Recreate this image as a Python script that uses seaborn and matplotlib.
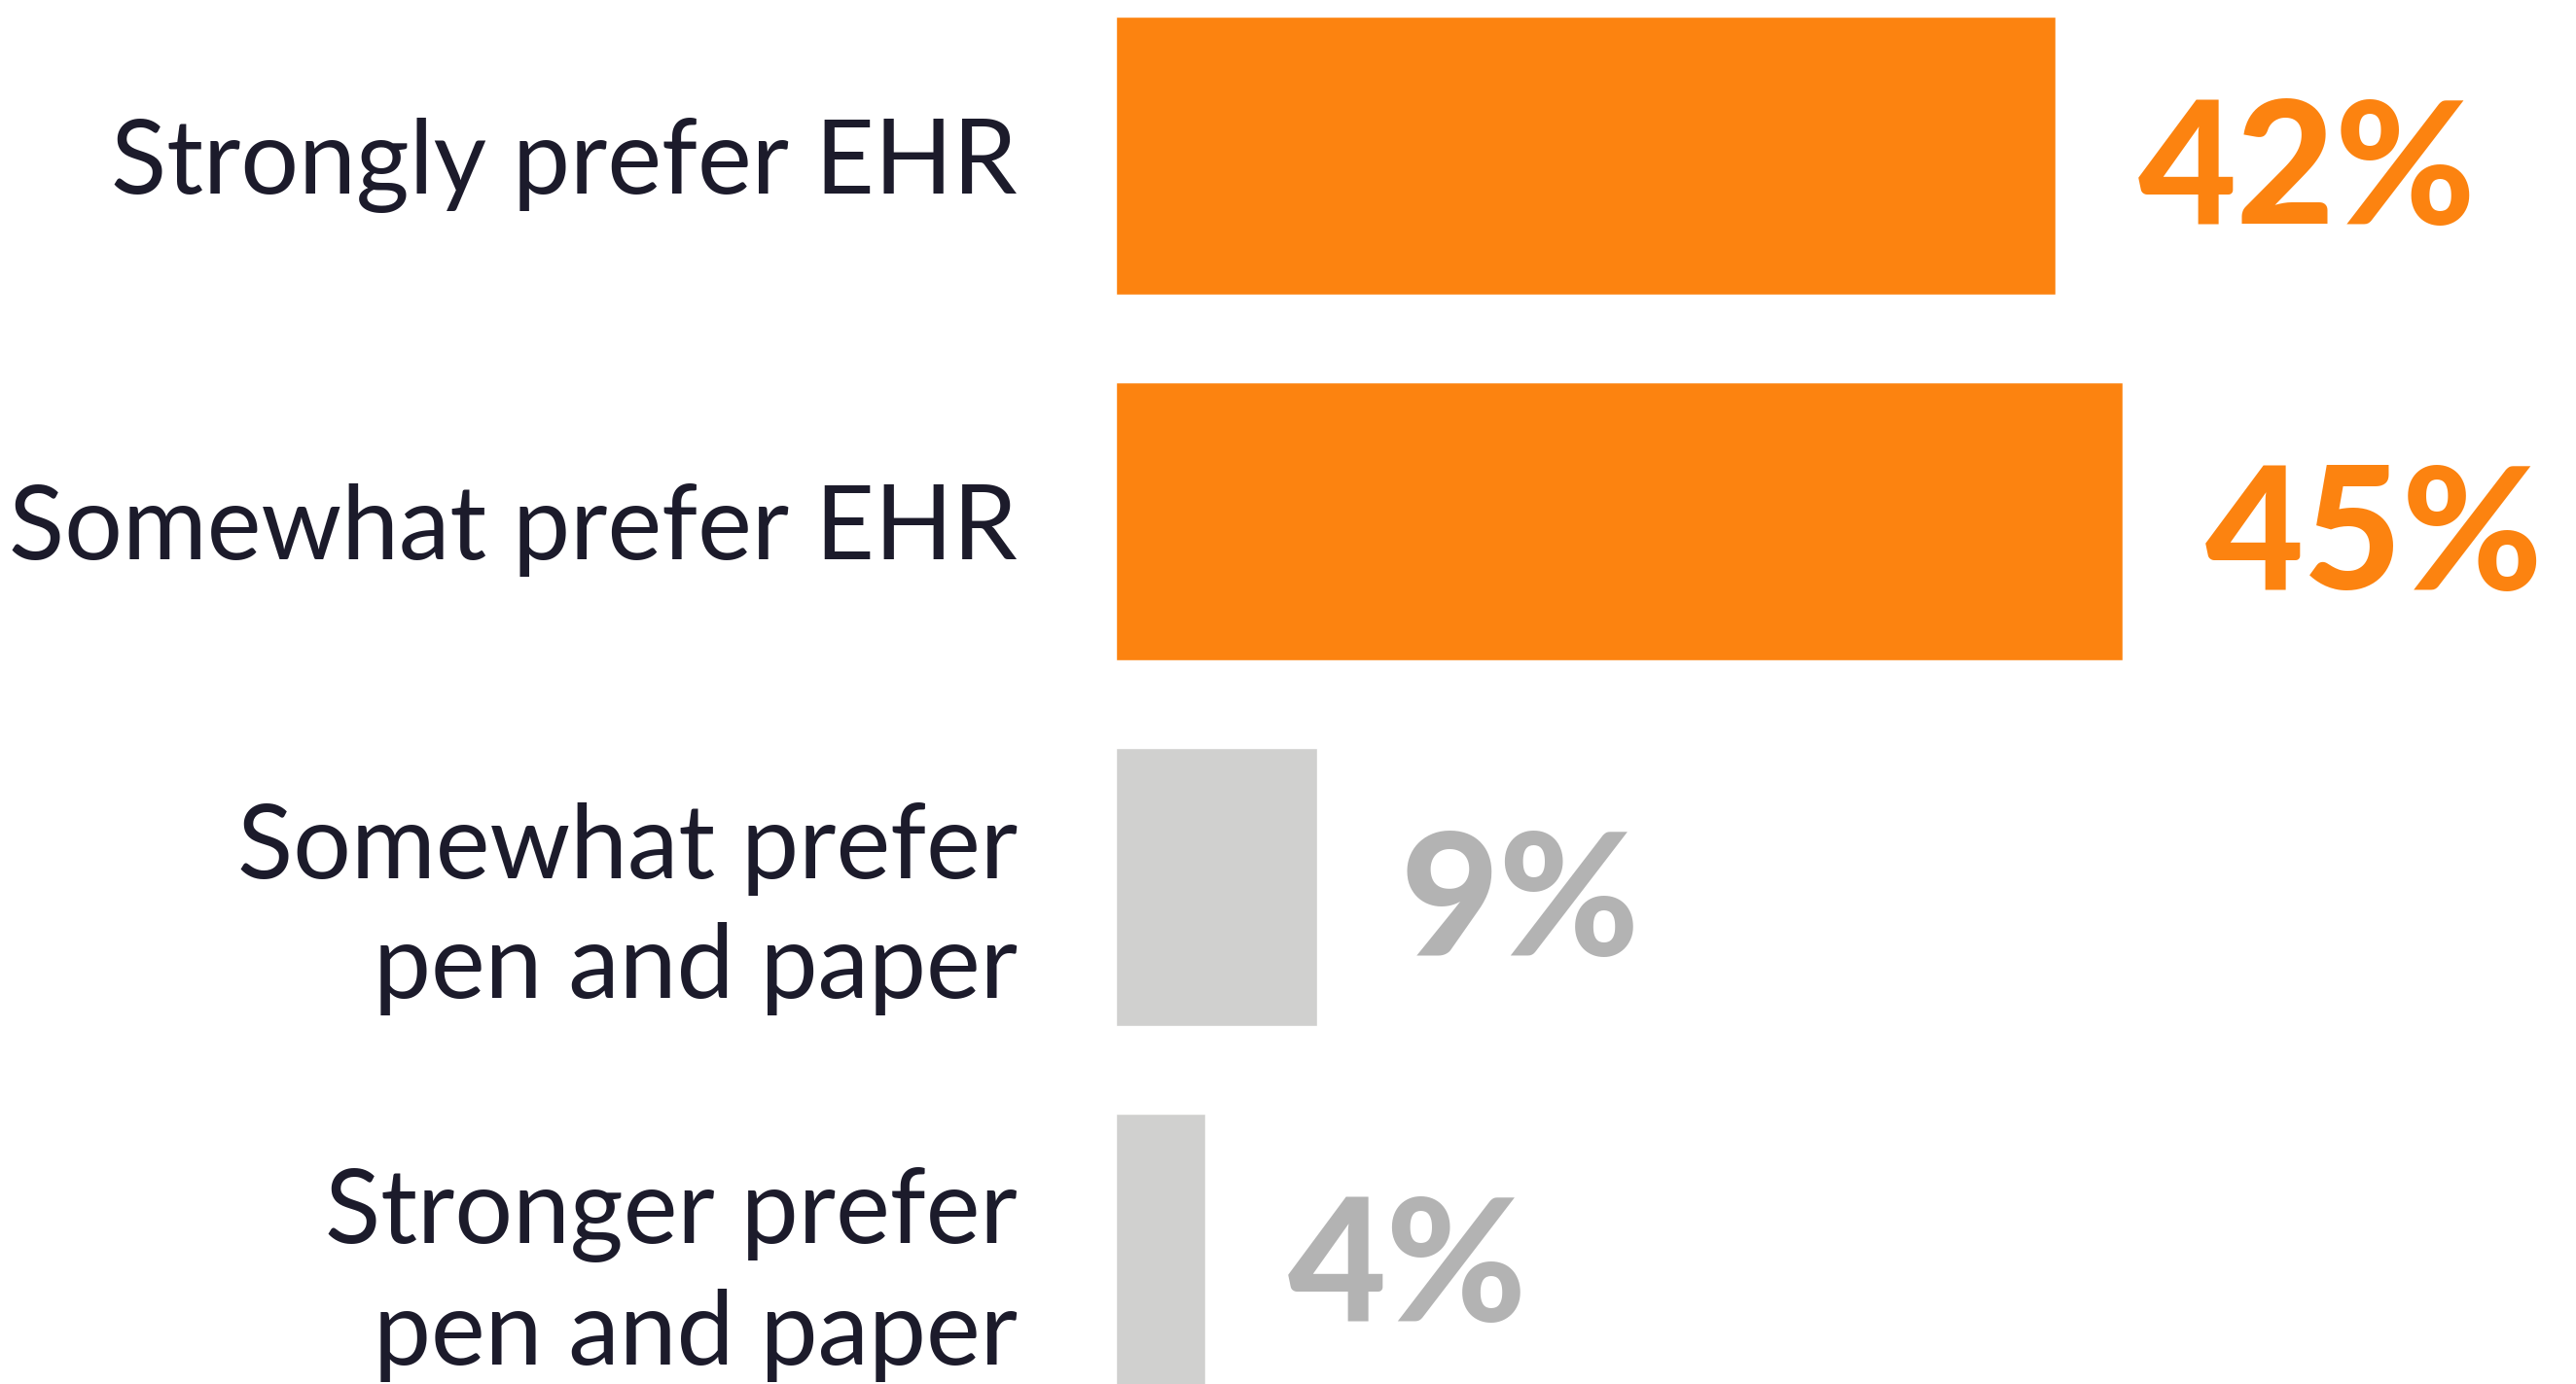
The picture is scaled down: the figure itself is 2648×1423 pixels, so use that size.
import pandas as pd
import matplotlib.pyplot as plt
import seaborn as sns

# --- DATA ---
categories = [
    "Strongly prefer EHR",
    "Somewhat prefer EHR",
    "Somewhat prefer\npen and paper",
    "Stronger prefer\npen and paper",
]
shares = [42, 45, 9, 4]
value_labels = ["42%", "45%", "9%", "4%"]
bar_colors = ["#FC8310", "#FC8310", "#D0D0CF", "#D0D0CF"]
text_colors = ["#FC8310", "#FC8310", "#B3B3B3", "#B3B3B3"]

df = pd.DataFrame({"answer": categories, "share": shares})

sns.set_style("white")
plt.rcParams['font.family'] = ['Lato', 'DejaVu Sans']

fig = plt.figure(figsize=(26.48, 14.23), dpi=100)
ax = fig.add_axes([0.4332, 0.0, 0.5645, 1.0])

sns.barplot(
    data=df, x="share", y="answer", hue="answer",
    palette=bar_colors, orient="h", width=0.76,
    legend=False, saturation=1, ax=ax,
)

ax.set_xlim(0, 65)
ax.set_ylim(3.359, -0.426)

# percentage labels to the right of each bar
for i, (v, lab, col) in enumerate(zip(shares, value_labels, text_colors)):
    ax.text(v + 3.7, i + 0.05, lab, ha="left", va="center",
            fontsize=126, fontweight="black", color=col, clip_on=False)

ax.set_xlabel("")
ax.set_ylabel("")
ax.set_xticks([])
ax.tick_params(axis="y", length=0, pad=73, labelsize=76, labelcolor="#1C1B2B")
for t in ax.get_yticklabels():
    t.set_linespacing(1.34)
sns.despine(ax=ax, left=True, bottom=True)

plt.savefig("out.png", dpi=100)
plt.close()
